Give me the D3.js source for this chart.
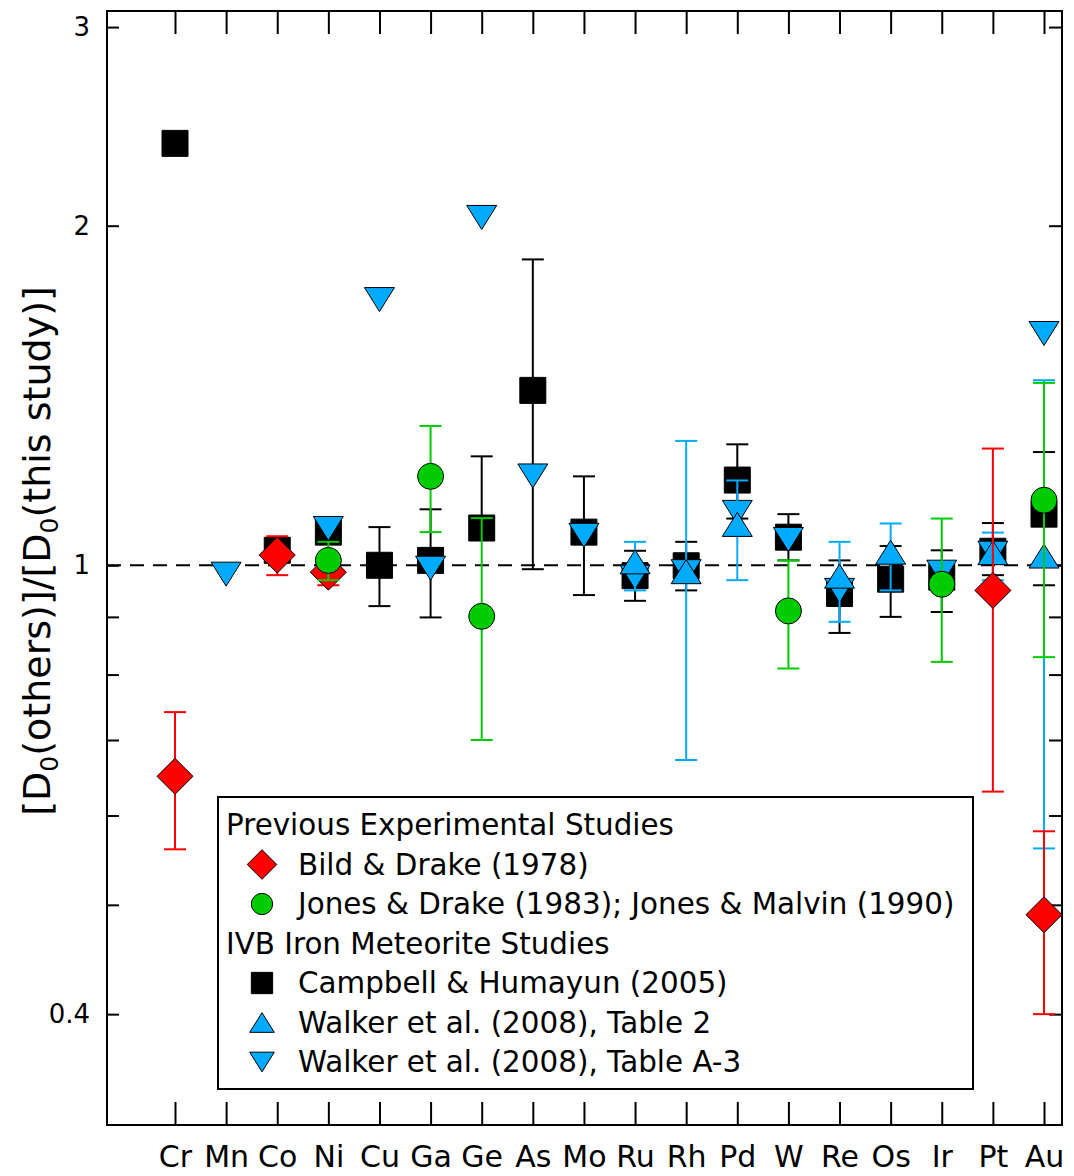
<!DOCTYPE html>
<html>
<head>
<meta charset="utf-8">
<script src="https://cdn.jsdelivr.net/npm/d3@7"></script>
<style>
  body { margin: 0; background: #fff; }
  svg { display: block; font-family: "DejaVu Sans", sans-serif; }
</style>
</head>
<body>
<div id="chart"></div>
<script>

/* * * * * * * * * * * * * *
*         DATA             *
* * * * * * * * * * * * * */

const elements = ['Cr','Mn','Co','Ni','Cu','Ga','Ge','As','Mo','Ru','Rh','Pd','W','Re','Os','Ir','Pt','Au'];

// Campbell & Humayun (2005)
const chVal = [2.366, null, 1.031, 1.070, 1.000, 1.010, 1.079, 1.429, 1.070, 0.979, 0.999, 1.190, 1.059, 0.944, 0.972, 0.976, 1.029, 1.110];
const chLo  = [null, null, null, null, 0.920, 0.899, 1.060, 0.992, 0.941, 0.930, 0.950, 1.100, 1.010, 0.871, 0.900, 0.909, 0.980, 0.960];
const chHi  = [null, null, null, null, 1.081, 1.121, 1.249, 1.867, 1.199, 1.030, 1.049, 1.280, 1.110, 1.010, 1.040, 1.031, 1.090, 1.260];

// Walker et al. (2008), Table A-3
const w3Val = [null, 0.982, null, 1.078, 1.720, 0.994, 2.034, 1.200, 1.063, 0.976, 0.987, 1.114, 1.054, 0.950, null, 0.986, 1.025, 1.605];

// Walker et al. (2008), Table 2
const w2Val = [null, null, null, null, null, null, null, null, null, 1.007, 0.987, 1.087, null, 0.978, 1.027, null, 1.026, 1.019];
const w2Lo  = [null, null, null, null, null, null, null, null, null, 0.950, 0.672, 0.970, null, 0.891, 0.950, null, 0.970, 0.561];
const w2Hi  = [null, null, null, null, null, null, null, null, null, 1.049, 1.289, 1.189, null, 1.049, 1.089, null, 1.069, 1.459];

// Bild & Drake (1978)
const bdVal = [0.650, null, 1.021, 0.986, null, null, null, null, null, null, null, null, null, null, null, null, 0.950, 0.490];
const bdLo  = [0.560, null, 0.980, 0.960, null, null, null, null, null, null, null, null, null, null, null, null, 0.630, 0.400];
const bdHi  = [0.741, null, 1.061, 1.010, null, null, null, null, null, null, null, null, null, null, null, null, 1.269, 0.581];

// Jones & Drake (1983); Jones & Malvin (1990)
const jdVal = [null, null, null, 1.010, null, 1.199, 0.901, null, null, null, null, null, 0.911, null, null, 0.962, null, 1.142];
const jdLo  = [null, null, null, 0.970, null, 1.070, 0.700, null, null, null, null, null, 0.810, null, null, 0.821, null, 0.829];
const jdHi  = [null, null, null, 1.049, null, 1.329, 1.101, null, null, null, null, null, 1.010, null, null, 1.100, null, 1.451];

const yTicks = [0.4, 0.5, 0.6, 0.7, 0.8, 0.9, 1, 2, 3];
const yTickLabels = {0.4: '0.4', 1: '1', 2: '2', 3: '3'};


/* * * * * * * * * * * * * *
*         SETUP            *
* * * * * * * * * * * * * */

const width = 1074, height = 1176;
const plot = {left: 107, right: 1062, top: 11, bottom: 1125};

const svg = d3.select('#chart').append('svg')
    .attr('width', width)
    .attr('height', height);

const x = d3.scaleLinear()
    .domain([0, elements.length - 1])
    .range([175, 1044]);

const y = d3.scaleLog()
    .domain([0.319, 3.10])
    .range([plot.bottom, plot.top]);

const red = '#ff0000', green = '#00cc00', blue = '#00aaff';

// marker shapes
const triUp = {
    draw(ctx, size) {
        const w = Math.sqrt(size), h = w * 0.8;
        ctx.moveTo(0, -h / 2); ctx.lineTo(w / 2, h / 2); ctx.lineTo(-w / 2, h / 2); ctx.closePath();
    }
};
const triDown = {
    draw(ctx, size) {
        const w = Math.sqrt(size), h = w * 0.8;
        ctx.moveTo(0, h / 2); ctx.lineTo(w / 2, -h / 2); ctx.lineTo(-w / 2, -h / 2); ctx.closePath();
    }
};
const diamond = {
    draw(ctx, size) {
        const r = Math.sqrt(size) / 2;
        ctx.moveTo(0, -r); ctx.lineTo(r, 0); ctx.lineTo(0, r); ctx.lineTo(-r, 0); ctx.closePath();
    }
};
const square = {
    draw(ctx, size) {
        const r = Math.sqrt(size) / 2;
        ctx.rect(-r, -r, 2 * r, 2 * r);
    }
};
const circle = {
    draw(ctx, size) {
        const r = Math.sqrt(size) / 2;
        ctx.moveTo(r, 0); ctx.arc(0, 0, r, 0, 2 * Math.PI);
    }
};

// drawing order: black squares, down triangles, up triangles, diamonds, circles
const series = [
    {name: 'Campbell & Humayun (2005)', val: chVal, lo: chLo, hi: chHi, shape: square, size: 26, fill: '#000', err: '#000'},
    {name: 'Walker et al. (2008), Table A-3', val: w3Val, lo: null, hi: null, shape: triDown, size: 30, fill: blue, err: blue},
    {name: 'Walker et al. (2008), Table 2', val: w2Val, lo: w2Lo, hi: w2Hi, shape: triUp, size: 30, fill: blue, err: blue},
    {name: 'Bild & Drake (1978)', val: bdVal, lo: bdLo, hi: bdHi, shape: diamond, size: 36, fill: red, err: red},
    {name: 'Jones & Drake (1983); Jones & Malvin (1990)', val: jdVal, lo: jdLo, hi: jdHi, shape: circle, size: 26, fill: green, err: green}
];


/* * * * * * * * * * * * * *
*         AXES             *
* * * * * * * * * * * * * */

const leftAxis = d3.axisLeft(y)
    .tickValues(yTicks)
    .tickSize(-12)
    .tickSizeOuter(0)
    .tickPadding(17)
    .tickFormat(d => yTickLabels[d] || '');

const rightAxis = d3.axisRight(y)
    .tickValues(yTicks)
    .tickSize(-13)
    .tickSizeOuter(0)
    .tickFormat('');

const idx = elements.map((e, i) => i);

const bottomAxis = d3.axisBottom(x)
    .tickValues(idx)
    .tickSize(-23)
    .tickSizeOuter(0)
    .tickPadding(21)
    .tickFormat(i => elements[i]);

const topAxis = d3.axisTop(x)
    .tickValues(idx)
    .tickSize(-23)
    .tickSizeOuter(0)
    .tickFormat('');

function styleAxis(g, fs) {
    g.select('.domain').remove();
    g.selectAll('.tick line').attr('stroke', '#000').attr('stroke-width', 2);
    g.selectAll('.tick text').attr('fill', '#000').style('font-size', fs + 'px')
        .style('font-family', '"DejaVu Sans", sans-serif');
}

svg.append('g').attr('transform', `translate(${plot.left},0)`).call(leftAxis).call(g => styleAxis(g, 26));
svg.append('g').attr('transform', `translate(${plot.right},0)`).call(rightAxis).call(g => styleAxis(g, 26));
svg.append('g').attr('transform', `translate(0,${plot.bottom})`).call(bottomAxis).call(g => styleAxis(g, 30));
svg.append('g').attr('transform', `translate(0,${plot.top})`).call(topAxis).call(g => styleAxis(g, 30));

// frame
svg.append('rect')
    .attr('x', plot.left)
    .attr('y', plot.top)
    .attr('width', plot.right - plot.left)
    .attr('height', plot.bottom - plot.top)
    .attr('fill', 'none')
    .attr('stroke', '#000')
    .attr('stroke-width', 2);

// reference line at 1
svg.append('line')
    .attr('x1', plot.left).attr('x2', plot.right)
    .attr('y1', y(1)).attr('y2', y(1))
    .attr('stroke', '#000')
    .attr('stroke-width', 2)
    .attr('stroke-dasharray', '14,9');

// y title
const title = svg.append('text')
    .attr('transform', `translate(50,${(287 + 815) / 2}) rotate(-90)`)
    .attr('text-anchor', 'middle')
    .style('font-size', '38px')
    .attr('fill', '#000');
title.append('tspan').text('[D');
title.append('tspan').text('0').style('font-size', '25px').attr('dy', 8);
title.append('tspan').text('(others)]/[D').attr('dy', -8);
title.append('tspan').text('0').style('font-size', '25px').attr('dy', 8);
title.append('tspan').text('(this study)]').attr('dy', -8);


/* * * * * * * * * * * * * *
*         LEGEND           *
* * * * * * * * * * * * * */

const legend = svg.append('g');
legend.append('rect')
    .attr('x', 218).attr('y', 797)
    .attr('width', 973 - 218).attr('height', 1089 - 797)
    .attr('fill', '#fff')
    .attr('stroke', '#000')
    .attr('stroke-width', 2);

const legendRows = [
    {text: 'Previous Experimental Studies', header: true},
    {s: series[3]},
    {s: series[4]},
    {text: 'IVB Iron Meteorite Studies', header: true},
    {s: series[0]},
    {s: series[2]},
    {s: series[1]}
];

legendRows.forEach((r, i) => {
    const base = 835 + i * 39.5;
    if (r.header) {
        legend.append('text')
            .attr('x', 226).attr('y', base)
            .style('font-size', '29.4px')
            .attr('fill', '#000')
            .text(r.text);
    } else {
        legend.append('path')
            .attr('transform', `translate(262,${base - 10})`)
            .attr('d', d3.symbol().type(r.s.shape).size(Math.pow(r.s.size * 0.82, 2))())
            .attr('fill', r.s.fill)
            .attr('stroke', '#000')
            .attr('stroke-width', 1);
        legend.append('text')
            .attr('x', 298).attr('y', base)
            .style('font-size', '29.4px')
            .attr('fill', '#000')
            .text(r.s.name);
    }
});


/* * * * * * * * * * * * * *
*         MARKS            *
* * * * * * * * * * * * * */

const capW = 11;
const marks = svg.append('g');

series.forEach(s => {
    const pts = elements.map((e, i) => ({i, v: s.val[i], lo: s.lo ? s.lo[i] : null, hi: s.hi ? s.hi[i] : null}))
        .filter(d => d.v != null);
    const g = marks.append('g');

    const errs = pts.filter(d => d.lo != null && d.hi != null);
    const eg = g.selectAll('g.err').data(errs).join('g').attr('class', 'err')
        .attr('stroke', s.err).attr('stroke-width', 2);
    eg.append('line')
        .attr('x1', d => x(d.i)).attr('x2', d => x(d.i))
        .attr('y1', d => y(d.lo)).attr('y2', d => y(d.hi));
    eg.append('line')
        .attr('x1', d => x(d.i) - capW).attr('x2', d => x(d.i) + capW)
        .attr('y1', d => y(d.lo)).attr('y2', d => y(d.lo));
    eg.append('line')
        .attr('x1', d => x(d.i) - capW).attr('x2', d => x(d.i) + capW)
        .attr('y1', d => y(d.hi)).attr('y2', d => y(d.hi));

    g.selectAll('path.mk').data(pts).join('path').attr('class', 'mk')
        .attr('transform', d => `translate(${x(d.i)},${y(d.v)})`)
        .attr('d', d3.symbol().type(s.shape).size(s.size * s.size)())
        .attr('fill', s.fill)
        .attr('stroke', '#000')
        .attr('stroke-width', 1);
});

</script>
</body>
</html>
